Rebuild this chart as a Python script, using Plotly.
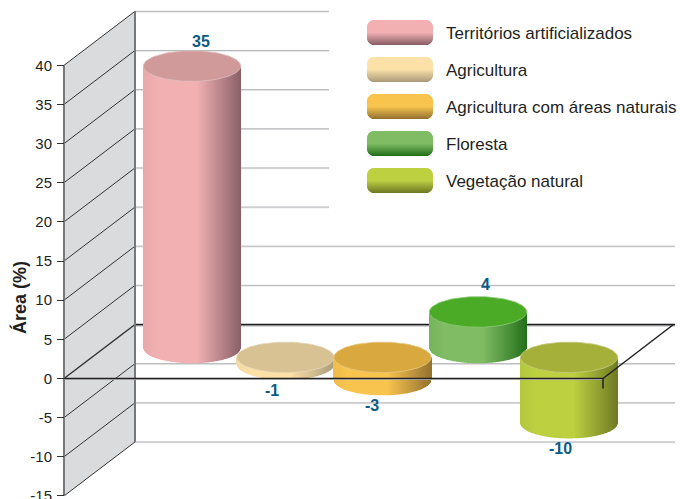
import math

import plotly.graph_objects as go

categories = ["Territórios artificializados", "Agricultura", "Agricultura com áreas naturais", "Floresta", "Vegetação natural"]
values = [35, -1, -3, 4, -10]
# cylinder heights as they are drawn in the picture, in axis units
drawn_heights = [36.0, 0.9, 2.9, 4.6, 8.4]
tick_values = [40, 35, 30, 25, 20, 15, 10, 5, 0, -5, -10, -15]

side_colors = ["#f2b0b3", "#fbe0a8", "#f9c44e", "#7fbc63", "#bcd040"]
dark_colors = ["#8a6068", "#ab9c79", "#957230", "#24701a", "#6f7a24"]
cap_colors = ["#d09a9b", "#d8c192", "#d9a93f", "#4bab27", "#a5b03a"]

FONT = "Liberation Sans"
INK = "#231f20"
LABEL = "#0b5c85"
W, H = 680, 499
PX = 7.83  # pixels per axis unit
ZERO_PX = 378.5
DEPTH_X = 71
DEPTH_Y = 54 / PX
Y_TOP = ZERO_PX / PX
Y_BOTTOM = -(H - ZERO_PX) / PX

centers = [192, 285.5, 382.5, 478, 569]
RADIUS_X = 48.7
RADIUS_Y = 15.3 / PX
BASE_UP = 3.9
BASE_DOWN = 2.7
draw_order = [0, 1, 3, 2, 4]
label_dx = [9, -14, -11, 7, -9]
label_dy = [-2, 0, 0, 1, 0]


def mix(c1, c2, t):
    a = [int(c1[i:i + 2], 16) for i in (1, 3, 5)]
    b = [int(c2[i:i + 2], 16) for i in (1, 3, 5)]
    return "#%02x%02x%02x" % tuple(round(p + (q - p) * t) for p, q in zip(a, b))


def shade(base, dark, t):
    if t < 0.55:
        return mix(mix(base, dark, 0.1), base, min(t / 0.15, 1))
    return mix(base, dark, (t - 0.55) / 0.45)


def line(x0, y0, x1, y1, color, width, layer="below"):
    return dict(type="line", x0=x0, y0=y0, x1=x1, y1=y1, layer=layer, line=dict(color=color, width=width))


fig = go.Figure()
shapes = []

# left wall and back grid
shapes.append(dict(
    type="path", layer="below", fillcolor="#dadbdd", line=dict(width=0),
    path=f"M 64 40 L {64 + DEPTH_X} {40 + DEPTH_Y} L {64 + DEPTH_X} {-15 + DEPTH_Y} L 64 -15 Z",
))
for v in tick_values:
    back_end = 329 if v >= 15 else 675
    if v != 0:
        shapes.append(line(64 + DEPTH_X, v + DEPTH_Y - 0.1, back_end, v + DEPTH_Y - 0.1, "#e2e2e3", 1))
        shapes.append(line(64 + DEPTH_X, v + DEPTH_Y, back_end, v + DEPTH_Y, "#b4b5b8", 1))
    shapes.append(line(64, v, 64 + DEPTH_X, v + DEPTH_Y, "#333333", 1.5 if v == 0 else 1))
shapes.append(line(135, DEPTH_Y - 0.15, 675, DEPTH_Y - 0.15, "#b4b5b8", 1.5))
shapes.append(line(135, DEPTH_Y, 675, DEPTH_Y, INK, 1.5))
shapes.append(line(64, -15, 64, 40, "#77787b", 2))
shapes.append(line(135, -15 + DEPTH_Y, 135, 40 + DEPTH_Y, "#77787b", 2))

# cylinders
annotations = []
for i in draw_order:
    cx = centers[i]
    if values[i] >= 0:
        bottom = BASE_UP
        top = BASE_UP + drawn_heights[i]
    else:
        top = BASE_DOWN
        bottom = BASE_DOWN - drawn_heights[i]
    xs, bases, heights, colors = [], [], [], []
    x = math.floor(cx - RADIUS_X)
    while x < cx + RADIUS_X:
        u = max(min((x + 0.5 - cx) / RADIUS_X, 1), -1)
        arc = bottom - RADIUS_Y * math.sqrt(1 - u * u)
        xs.append(x + 0.5)
        bases.append(arc)
        heights.append(top - arc)
        colors.append(shade(side_colors[i], dark_colors[i], (u + 1) / 2))
        x += 1
    fig.add_trace(go.Bar(
        x=xs, y=heights, base=bases, width=1, marker=dict(color=colors, line=dict(width=0)),
        hoverinfo="skip", showlegend=False,
    ))
for i in draw_order:
    top = BASE_UP + drawn_heights[i] if values[i] >= 0 else BASE_DOWN
    angles = [k * math.pi / 60 for k in range(121)]
    fig.add_trace(go.Scatter(
        x=[centers[i] + RADIUS_X * math.cos(a) for a in angles],
        y=[top + RADIUS_Y * math.sin(a) for a in angles],
        mode="lines", fill="toself", fillcolor=cap_colors[i],
        line=dict(color=mix(cap_colors[i], "#ffffff", 0.35), width=0.8),
        hoverinfo="skip", showlegend=False,
    ))
    if values[i] >= 0:
        label_y = top + RADIUS_Y + 11 / PX
    else:
        label_y = top - drawn_heights[i] - RADIUS_Y - 10.5 / PX
    annotations.append(dict(
        x=centers[i] + label_dx[i], y=label_y + label_dy[i] / PX,
        text=f"<b>{values[i]}</b>", showarrow=False,
        font=dict(family=FONT, size=16, color=LABEL),
    ))

# front edge of the zero plane, in front of the cylinders
shapes.append(line(64, -0.12, 603, -0.12, "#c8c8ca", 1, "above"))
shapes.append(line(64, 0, 603, 0, INK, 1.5, "above"))
shapes.append(line(603, 0, 603 + DEPTH_X - 0.5, DEPTH_Y, INK, 1.5, "above"))
shapes.append(line(603, 0, 603, -10 / PX, INK, 1.5, "above"))

# legend swatches
for i, name in enumerate(categories):
    row_top = 20 + i * 37
    rows_y, rows_x, rows_w, rows_c = [], [], [], []
    for r in range(25):
        d = min(r + 0.5, 24.5 - r)
        inset = 7 - math.sqrt(max(49 - (7 - d) ** 2, 0)) if d < 7 else 0
        rows_y.append((ZERO_PX - (row_top + r + 0.5)) / PX)
        rows_x.append(367 + inset)
        rows_w.append(66 - 2 * inset)
        rows_c.append(shade(side_colors[i], dark_colors[i], 0.55 + 0.45 * max((r - 12) / 12, 0)))
    fig.add_trace(go.Bar(
        orientation="h", y=rows_y, x=rows_w, base=rows_x, width=1 / PX,
        marker=dict(color=rows_c, line=dict(width=0)), hoverinfo="skip", showlegend=False,
    ))
    annotations.append(dict(
        x=444, y=(ZERO_PX - (row_top + 13)) / PX, text=name, showarrow=False, xanchor="left",
        font=dict(family=FONT, size=17, color=INK),
    ))

annotations.append(dict(
    x=19, y=(ZERO_PX - 298) / PX, text="<b>Área (%)</b>", showarrow=False, textangle=-90,
    font=dict(family=FONT, size=18, color=INK),
))

fig.update_layout(
    width=W, height=H, margin=dict(l=0, r=0, t=0, b=0),
    paper_bgcolor="white", plot_bgcolor="white",
    barmode="overlay", showlegend=False,
    shapes=shapes, annotations=annotations,
    xaxis=dict(range=[0, W], visible=False, fixedrange=True, automargin=False),
    yaxis=dict(
        range=[Y_BOTTOM, Y_TOP], anchor="free", position=64 / W, showgrid=False, zeroline=False,
        automargin=False, showline=False, ticks="outside", ticklen=7, tickcolor="#333333", tickwidth=1,
        tickvals=tick_values, ticktext=[str(v) for v in tick_values], ticklabeloverflow="allow",
        ticklabelstandoff=2, tickfont=dict(family=FONT, size=15, color=INK), fixedrange=True,
    ),
)

# the page's default body margin would push the chart off the 680x499 window
fig.write_html("out.html", config=dict(displayModeBar=False), post_script="document.body.style.margin = '0';")
